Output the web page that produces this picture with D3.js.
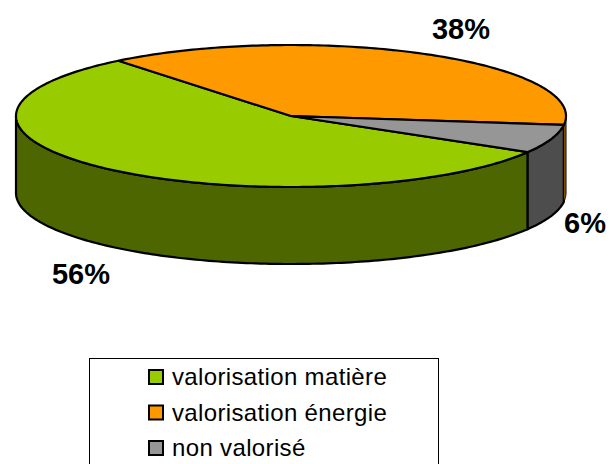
<!DOCTYPE html>
<html><head><meta charset="utf-8">
<script src="https://cdn.jsdelivr.net/npm/d3@7/dist/d3.min.js"></script>
<style>html,body{margin:0;padding:0;background:#fff;overflow:hidden}svg{display:block}text{font-family:"Liberation Sans",Arial,sans-serif;fill:#000}</style>
</head><body><svg id="c" width="611" height="464"></svg>
<script>
const categories = ["valorisation matière","valorisation énergie","non valorisé"];
const shares = [55.7,37.8,6.49];
const percentLabels = ["56%","38%","6%"];
const topColors = ["#99cc00","#ff9900","#969696"];
const sideColors = ["#4d6600","#b36b00","#4d4d4d"];
const sideStroke = [2.2,1,2.2];
const sideOrder = [0,2,1];
const labelSpots = [[81,274],[461,29],[585,223]];

const svg = d3.select("#c");
const cx=291, cy=116, rx=275, ry=71, depth=77;
const sx = d3.scaleLinear().domain([-1,1]).range([cx-rx,cx+rx]);
const sy = d3.scaleLinear().domain([-1,1]).range([cy-ry,cy+ry]);
const deg = Math.PI/180;
const start = 120.6*deg;
const arcs = d3.pie().sort(null).value(d=>d).startAngle(start).endAngle(start+2*Math.PI)(shares);
const line = d3.line().x(d=>d[0]).y(d=>d[1]);
const pt = (a,dz=0)=>[sx(Math.sin(a)), sy(-Math.cos(a))+dz];
function samples(a0,a1){const n=Math.max(2,Math.ceil(Math.abs(a1-a0)/(deg))); return d3.range(n+1).map(i=>a0+(a1-a0)*i/n);}
const strokeW=2.2;
sideOrder.forEach(i=>{
  const d=arcs[i];
  const segs=[[d.startAngle,d.endAngle],[d.startAngle-2*Math.PI,d.endAngle-2*Math.PI]];
  segs.forEach(([a,b])=>{
    const a0=Math.max(a,90*deg), a1=Math.min(b,270*deg);
    if(a1<=a0) return;
    const s=samples(a0,a1);
    const pts=s.map(t=>pt(t)).concat(s.slice().reverse().map(t=>pt(t,depth)));
    svg.append("path").attr("d",line(pts)+"Z").attr("fill",sideColors[i]).attr("stroke","#000").attr("stroke-width",sideStroke[i]).attr("stroke-linejoin","round");
  });
});
arcs.forEach((d,i)=>{
  const pts=[[sx(0),sy(0)]].concat(samples(d.startAngle,d.endAngle).map(t=>pt(t)));
  svg.append("path").attr("d",line(pts)+"Z").attr("fill",topColors[i]).attr("stroke","#000").attr("stroke-width",strokeW).attr("stroke-linejoin","round");
});
percentLabels.forEach((t,i)=>{
  svg.append("text").attr("x",labelSpots[i][0]).attr("y",labelSpots[i][1]+9.5).attr("text-anchor","middle")
    .attr("font-size",29).attr("font-weight","bold").text(t);
});
svg.append("rect").attr("x",89.5).attr("y",358.5).attr("width",349).attr("height",120).attr("fill","#fff").attr("stroke","#000").attr("stroke-width",1);
const ly=d3.scalePoint().domain(categories).range([377,448]);
categories.forEach((c,i)=>{
  svg.append("rect").attr("x",149).attr("y",ly(c)-7).attr("width",14).attr("height",14).attr("fill",topColors[i]).attr("stroke","#000").attr("stroke-width",2);
  svg.append("text").attr("x",172).attr("y",ly(c)+8).attr("font-size",24).attr("letter-spacing",0.35).text(c);
});
</script></body></html>
